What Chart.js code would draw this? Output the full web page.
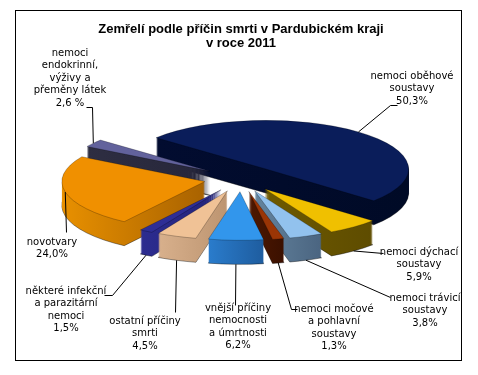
<!DOCTYPE html>
<html>
<head>
<meta charset="utf-8">
<script src="https://cdn.jsdelivr.net/npm/chart.js@4"></script>
<style>
    body { margin: 0; background: #fff; }
    #frame { position: absolute; left: 15px; top: 10px; width: 445px; height: 349px; border: 1px solid #000; }
    #wrap { position: absolute; left: 0; top: 0; width: 478px; height: 375px; }
</style>
</head>
<body>
<div id="frame"></div>
<div id="wrap"><canvas id="deathsChart" width="478" height="375"></canvas></div>
<script>
// Data
const categories = [
    ['nemoci oběhové', 'soustavy'],
    ['nemoci dýchací', 'soustavy'],
    ['nemoci trávicí', 'soustavy'],
    ['nemoci močové', 'a pohlavní', 'soustavy'],
    ['vnější příčiny', 'nemocnosti', 'a úmrtnosti'],
    ['ostatní příčiny', 'smrti'],
    ['některé infekční', 'a parazitární', 'nemoci'],
    ['novotvary'],
    ['nemoci', 'endokrinní,', 'výživy a', 'přeměny látek']
];
const shares = [50.3, 5.9, 3.8, 1.3, 6.2, 4.5, 1.5, 24.0, 2.6];
const shareLabels = ['50,3%', '5,9%', '3,8%', '1,3%', '6,2%', '4,5%', '1,5%', '24,0%', '2,6 %'];

// Styles
const topColors = ['#0a1d5a', '#f0c000', '#92c2ee', '#9a3505', '#3296ec', '#f0c296', '#2e2e96', '#f09000', '#62629c'];
const sideColors = [
    ['#020c30', '#000a26'], ['#6e5a00', '#5e4c00'], ['#64849e', '#4a6480'],
    ['#4e1800', '#3a1000'], ['#2a7ccc', '#1e5c9e'], ['#d8b08c', '#bc9470'],
    ['#2c2c90', '#222278'], ['#e89000', '#a86200'], ['#2e2e42', '#26263a']
];
const explode = [38, 38, 38, 38, 38, 38, 38, 37, 38];
const labelPos = [[412, 76], [419, 252], [425, 298], [334, 309], [238, 308], [145, 321], [66, 291], [52, 242], [70, 53]];
const leaderEnds = [
    [[397, 105], [390, 105]], [[383, 253]], [[390, 297]], [[297, 309], [291, 309]],
    [[235, 305]], [[175, 312]], [[104, 295], [112, 295]], [[66, 232]], [[86, 107], [92, 107]]
];

const flat = 0.34;
const depth = 24;

function drawFlat(ctx, arc, cy, dx, dy, d) {
    ctx.save();
    ctx.translate(0, cy + d);
    ctx.scale(1, flat);
    ctx.translate(dx, dy - cy);
    arc.draw(ctx);
    ctx.restore();
}

// Fake 3D: stacked side layers + flattened top, back to front
const pie3d = {
    id: 'pie3d',
    beforeDatasetsDraw(chart) {
        const ctx = chart.ctx;
        const arcs = chart.getDatasetMeta(0).data;
        const cy = arcs[0].y;
        const mid = a => (a.startAngle + a.endAngle) / 2;
        const order = arcs.map((a, i) => i).sort((a, b) => Math.sin(mid(arcs[a])) - Math.sin(mid(arcs[b])));

        order.forEach(i => {
            const arc = arcs[i];
            const m = mid(arc);
            const dx = Math.cos(m) * explode[i];
            const dy = Math.sin(m) * explode[i];
            const orig = arc.options;

            // horizontal extent for side shading
            let minX = arc.x, maxX = arc.x;
            for (let t = 0; t <= 20; t++) {
                const ang = arc.startAngle + (arc.endAngle - arc.startAngle) * t / 20;
                const px = arc.x + Math.cos(ang) * arc.outerRadius;
                minX = Math.min(minX, px);
                maxX = Math.max(maxX, px);
            }
            const grad = ctx.createLinearGradient(minX, 0, maxX + 1, 0);
            grad.addColorStop(0, sideColors[i][0]);
            grad.addColorStop(1, sideColors[i][1]);

            for (let d = depth; d > 0; d--) {
                arc.options = Object.assign({}, orig, {
                    backgroundColor: grad,
                    borderColor: d === depth ? 'rgba(0,0,0,0.6)' : grad,
                    borderWidth: d === depth ? 1 : 0
                });
                drawFlat(ctx, arc, cy, dx, dy, d);
            }
            arc.options = orig;
            drawFlat(ctx, arc, cy, dx, dy, 0);
        });
        return false;
    }
};

// Data labels with leader lines
const pieLabels = {
    id: 'pieLabels',
    afterDraw(chart) {
        const ctx = chart.ctx;
        const arcs = chart.getDatasetMeta(0).data;
        const cy = arcs[0].y;
        ctx.save();
        ctx.strokeStyle = '#000';
        ctx.lineWidth = 1;
        arcs.forEach((arc, i) => {
            const m = (arc.startAngle + arc.endAngle) / 2;
            const r = arc.outerRadius;
            const ax = arc.x + Math.cos(m) * (r + explode[i]);
            let ay = cy + flat * Math.sin(m) * (r + explode[i]);
            if (Math.sin(m) > 0.4) ay += depth;
            const pts = leaderEnds[i];
            ctx.beginPath();
            ctx.moveTo(pts[0][0] + 0.5, pts[0][1] + 0.5);
            pts.slice(1).forEach(p => ctx.lineTo(p[0] + 0.5, p[1] + 0.5));
            ctx.lineTo(ax, ay);
            ctx.stroke();
        });

        ctx.fillStyle = '#000';
        ctx.font = '10px "DejaVu Sans"';
        ctx.textAlign = 'center';
        ctx.textBaseline = 'middle';
        categories.forEach((lines, i) => {
            const all = lines.concat([shareLabels[i]]);
            all.forEach((line, j) => {
                ctx.fillText(line, labelPos[i][0], labelPos[i][1] + j * 12.5);
            });
        });
        ctx.restore();
    }
};

new Chart(document.getElementById('deathsChart'), {
    type: 'pie',
    data: {
        labels: categories,
        datasets: [{
            data: shares,
            backgroundColor: topColors,
            borderColor: 'rgba(0,0,0,0.45)',
            borderWidth: 0.8,
            radius: 143,
            rotation: 310,
            clip: false
        }]
    },
    options: {
        responsive: false,
        animation: false,
        events: [],
        radius: 143,
        rotation: 310,
        layout: { padding: { left: 4, right: 0, top: 0, bottom: 68 } },
        plugins: {
            legend: { display: false },
            tooltip: { enabled: false },
            title: {
                display: true,
                text: ['Zemřelí podle příčin smrti v Pardubickém kraji', 'v roce 2011'],
                color: '#000',
                font: { family: '"Liberation Sans", Arial', size: 13, weight: 'bold', lineHeight: 1.1 },
                padding: { top: 22, bottom: 0 }
            }
        }
    },
    plugins: [pie3d, pieLabels]
});
</script>
</body>
</html>
